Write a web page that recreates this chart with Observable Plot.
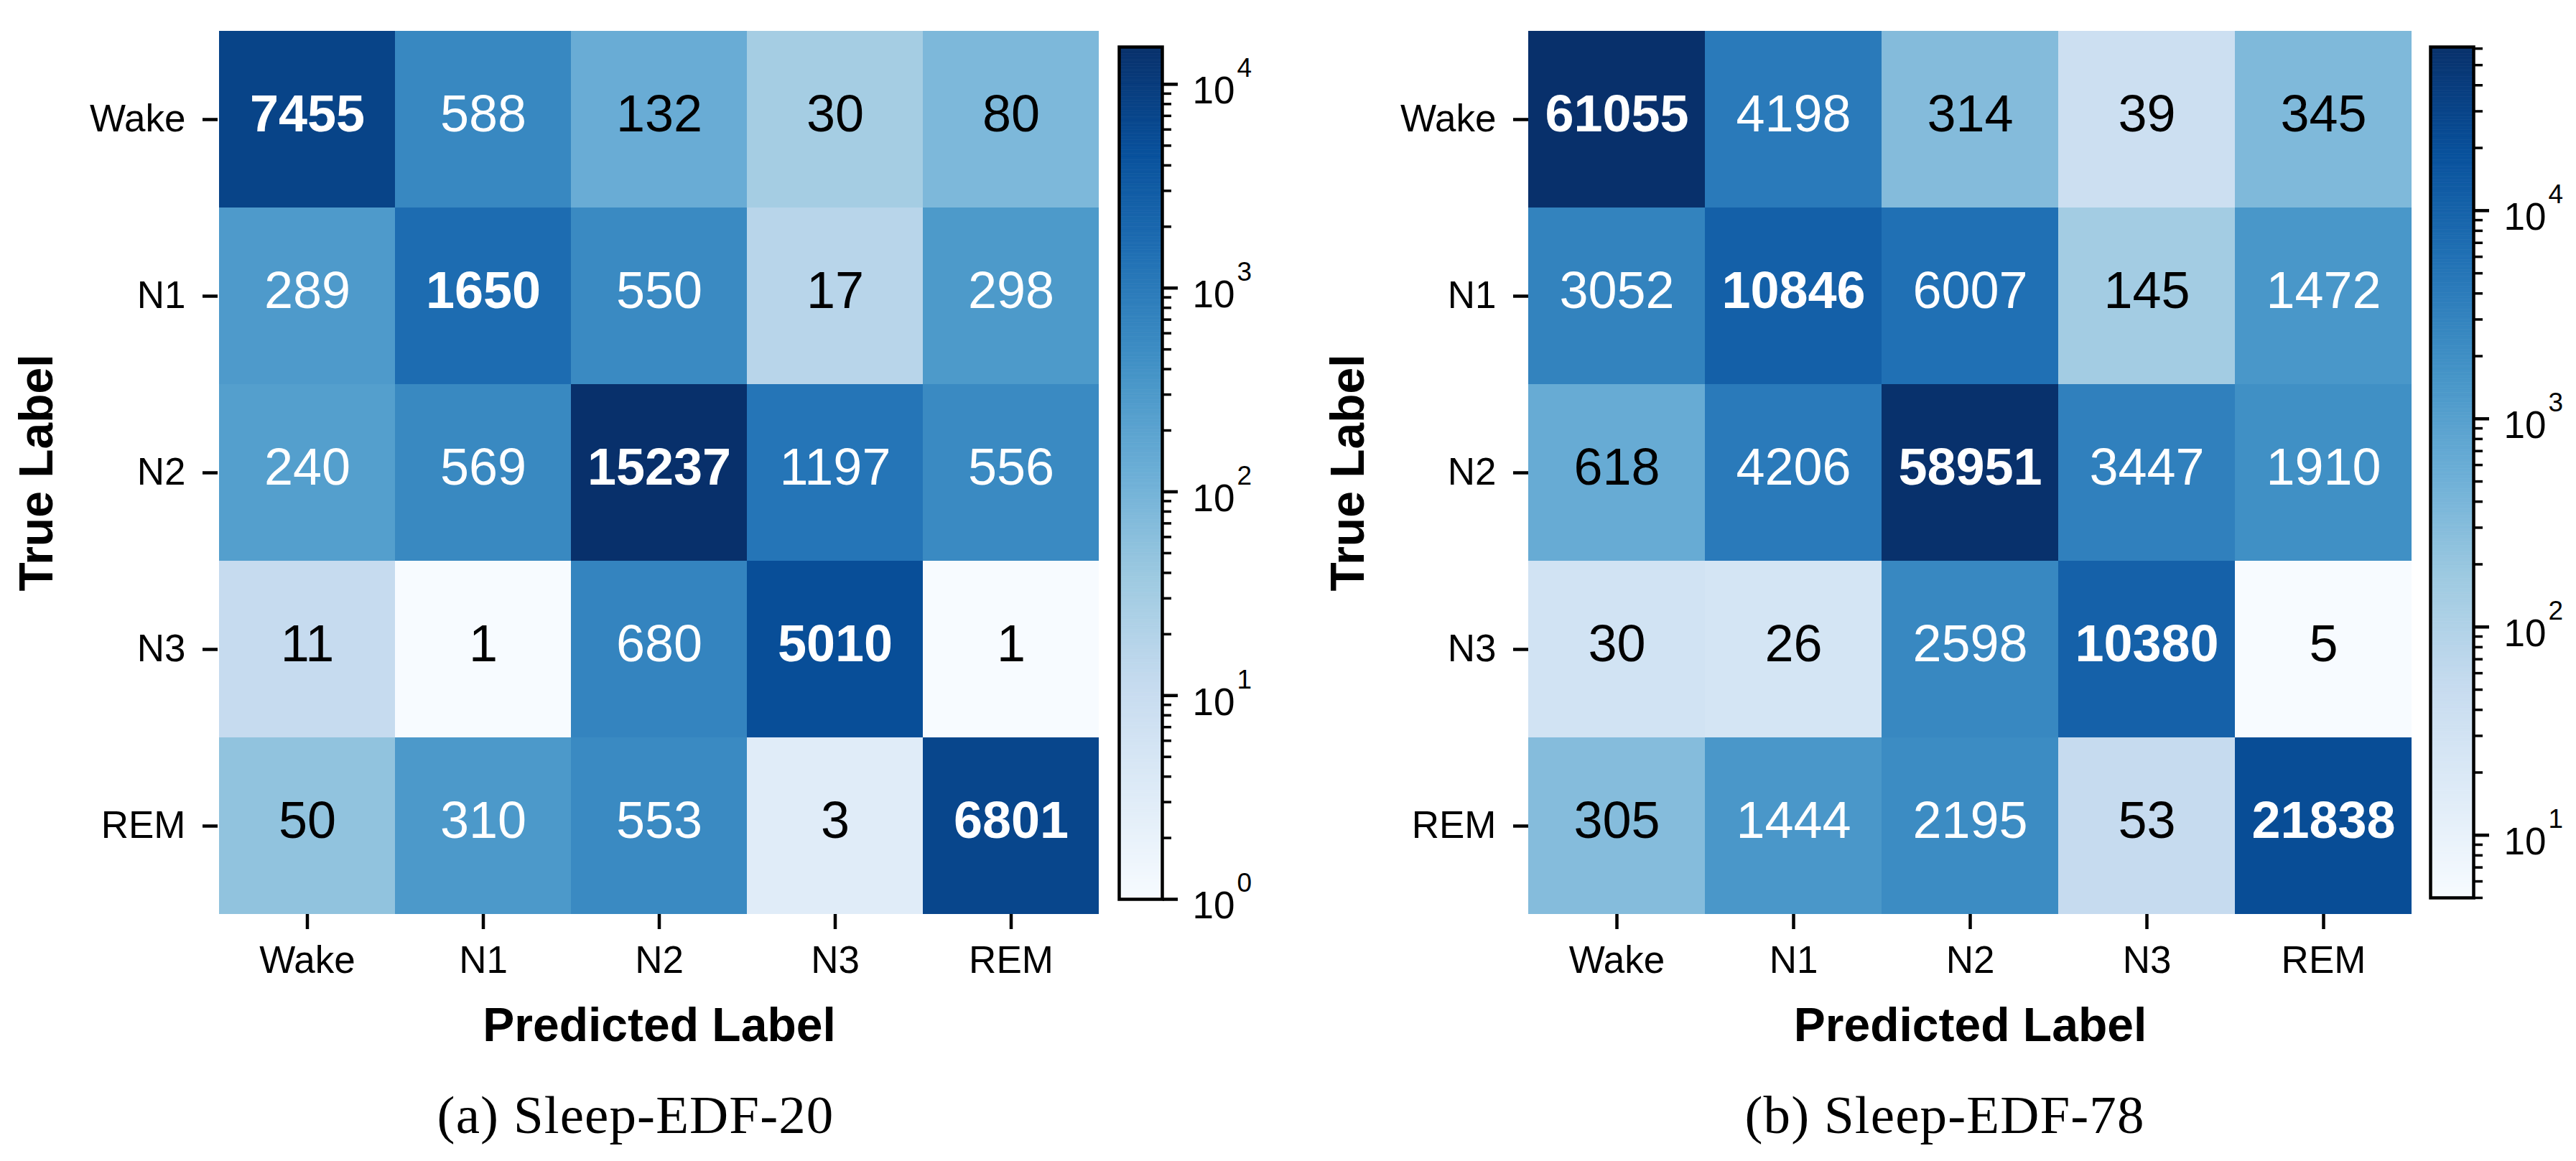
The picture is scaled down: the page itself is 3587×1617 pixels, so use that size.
<!DOCTYPE html>
<html><head><meta charset="utf-8">
<script src="https://cdn.jsdelivr.net/npm/d3@7"></script>
<script src="https://cdn.jsdelivr.net/npm/@observablehq/plot@0.6"></script>
<style>
html,body{margin:0;padding:0;background:#fff;width:3587px;height:1617px;overflow:hidden}
#root{position:relative;width:3587px;height:1617px}
#root>*{position:absolute;top:0}
.cap{font-family:"Liberation Serif",serif;font-size:75px;color:#000;white-space:nowrap;transform:translateX(-50%);letter-spacing:1.1px;line-height:1}
svg{overflow:visible}
</style></head><body><div id="root"></div>
<script>
const labels = ["Wake","N1","N2","N3","REM"];
const edf20 = [
  [7455,588,132,30,80],
  [289,1650,550,17,298],
  [240,569,15237,1197,556],
  [11,1,680,5010,1],
  [50,310,553,3,6801]
];
const edf78 = [
  [61055,4198,314,39,345],
  [3052,10846,6007,145,1472],
  [618,4206,58951,3447,1910],
  [30,26,2598,10380,5],
  [305,1444,2195,53,21838]
];
const blues = ["#f7fbff","#deebf7","#c6dbef","#9ecae1","#6baed6","#4292c6","#2171b5","#08519c","#08306b"];
const captions = ["(a) Sleep-EDF-20","(b) Sleep-EDF-78"];
const majorTicks = [[1,10,100,1000,10000],[10,100,1000,10000]];
const whiteAbove = [200,1000];
const xTitle = "Predicted Label", yTitle = "True Label";

const interp = d3.piecewise(d3.interpolateRgb, blues);
const FONT = "Liberation Sans, Arial, sans-serif";

function heat(matrix, white, opts){
  const rows = matrix.flatMap((r,i)=>r.map((v,j)=>({t:labels[i],p:labels[j],v,diag:i===j})));
  const dom = d3.extent(rows,d=>d.v);
  const color = {type:"log",domain:dom,interpolate:interp};
  const lab = (filter,fw)=>Plot.text(rows,{x:"p",y:"t",text:d=>String(d.v),filter,fill:d=>d.v>white?"#fff":"#000",
    fontSize:72,fontWeight:fw,dy:-7,lineAnchor:"middle"});
  return Plot.plot({
    width:opts.width,height:1617,marginLeft:opts.ml,marginRight:opts.mr,marginTop:43,marginBottom:344,
    style:{fontFamily:FONT,background:"transparent"},
    x:{domain:labels,padding:0,axis:null},
    y:{domain:labels,padding:0,axis:null},
    color,
    marks:[
      Plot.cell(rows,{x:"p",y:"t",fill:"v"}),
      lab(d=>!d.diag,"normal"),
      lab(d=>d.diag,"bold"),
      Plot.axisX({domain:labels,anchor:"bottom",tickSize:21,tickPadding:23,strokeWidth:4.5,fontSize:53,label:null}),
      Plot.axisY({anchor:"left",tickSize:21,tickPadding:24,strokeWidth:4.5,fontSize:53,label:null}),
      Plot.axisX({anchor:"bottom",ticks:[],tickSize:0,label:xTitle,labelAnchor:"center",labelArrow:"none",labelOffset:176,fontSize:66,fontWeight:"bold"}),
      Plot.axisY({anchor:"left",ticks:[],tickSize:0,label:yTitle,labelAnchor:"center",labelArrow:"none",labelOffset:opts.yoff,fontSize:66,fontWeight:"bold"})
    ]
  });
}

function cbar(matrix, majors, opts){
  const [lo,hi] = d3.extent(matrix.flat());
  const color = {type:"log",domain:[lo,hi],interpolate:interp};
  const n = 256, a = Math.log10(lo), b = Math.log10(hi);
  const steps = d3.range(n).map(i=>({y1:10**(a+(b-a)*i/n),y2:10**(a+(b-a)*(i+1)/n),v:10**(a+(b-a)*(i+.5)/n)}));
  const minors = majors.concat([majors[0]/10]).flatMap(m=>[2,3,4,5,6,7,8,9].map(k=>k*m)).filter(v=>v>=lo&&v<=hi);
  const exp = d=>String(Math.round(Math.log10(d)));
  return Plot.plot({
    width:opts.width,height:opts.h,marginLeft:opts.ml,marginRight:opts.width-opts.ml-60,marginTop:opts.top,marginBottom:opts.h-opts.bottom,
    style:{fontFamily:FONT,background:"transparent",overflow:"visible"},
    x:{domain:[0,1],axis:null},
    y:{type:"log",domain:[lo,hi],axis:null},
    color,
    marks:[
      Plot.rect(steps,{x1:0,x2:1,y1:"y1",y2:"y2",fill:"v",stroke:"v",strokeWidth:.6}),
      Plot.frame({stroke:"#000",strokeWidth:4.5}),
      Plot.axisY({anchor:"right",ticks:majors,tickSize:21,tickFormat:()=>"",strokeWidth:4.5,label:null}),
      Plot.axisY({anchor:"right",ticks:minors,tickSize:12,tickFormat:()=>"",strokeWidth:3.5,label:null}),
      Plot.text(majors,{y:d=>d,text:()=>"10",frameAnchor:"right",textAnchor:"start",dx:42,dy:10,fontSize:53,fill:"#000",lineAnchor:"middle"}),
      Plot.text(majors,{y:d=>d,text:exp,frameAnchor:"right",textAnchor:"start",dx:104,dy:-22,fontSize:37,fill:"#000",lineAnchor:"middle"})
    ]
  });
}

const root = document.getElementById("root");
function place(el,left){el.style.left=left+"px";el.style.position="absolute";el.style.top="0";root.appendChild(el);}
function caption(t,cx){const d=document.createElement("div");d.className="cap";d.textContent=t;d.style.left=cx+"px";d.style.top="1515px";root.appendChild(d);}

place(heat(edf20,whiteAbove[0],{width:1545,ml:303,mr:13,yoff:277}),0);
place(cbar(edf20,majorTicks[0],{width:217,ml:13,h:1300,top:65,bottom:1252}),1545);
place(heat(edf78,whiteAbove[1],{width:1570,ml:328,mr:12,yoff:276}),1800);
place(cbar(edf78,majorTicks[1],{width:217,ml:14,h:1300,top:65,bottom:1250}),3370);
caption(captions[0],885);
caption(captions[1],2708);
</script></body></html>
